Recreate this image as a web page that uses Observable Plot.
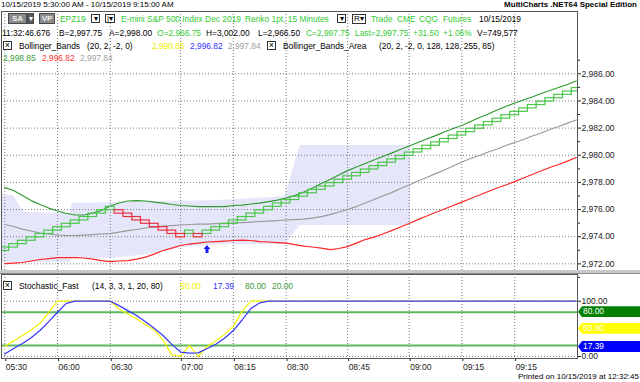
<!DOCTYPE html>
<html><head><meta charset="utf-8">
<script src="https://cdn.jsdelivr.net/npm/d3@7"></script>
<script src="https://cdn.jsdelivr.net/npm/@observablehq/plot@0.6"></script>
<style>
html,body{margin:0;padding:0;background:#fff;}
#wrap{position:relative;width:640px;height:382px;overflow:hidden;background:#fff;font-family:"Liberation Sans",Arial,sans-serif;font-size:8.4px;color:#000;}
#wrap .t{position:absolute;white-space:pre;line-height:10px;}
#wrap .b{position:absolute;box-sizing:border-box;text-align:center;font-size:8px;overflow:hidden;}
</style></head><body><div id="wrap"></div>
<script>
// ---------------- DATA ----------------
const timeTickBars = [0, 6, 12, 20, 26, 32, 39, 46, 52, 58];
const timeTickLabels = ["05:30","06:00","06:30","07:00","08:15","08:30","08:45","09:00","09:15","09:15"];
const priceTicks = [2972, 2974, 2976, 2978, 2980, 2982, 2984, 2986];
const minorPriceTicks = [2971, 2973, 2975, 2977, 2979, 2981, 2983, 2985, 2987];
const brickSize = 0.25;
const renkoDirs = "UUUUUUUUUUUUU" + "DDDDDDDD" + "UDU" + "UUUUUUUUUUUUUUUUUUUUUUUUUUUUUUUUUUUUUUUUUU";
const renkoClose = [
  2973.20, 2973.45, 2973.70, 2973.95, 2974.20, 2974.45, 2974.70, 2974.95, 2975.20, 2975.45, 2975.70, 2975.95, 2976.20,
  2975.70, 2975.45, 2975.20, 2974.95, 2974.70, 2974.45, 2974.20, 2973.95,
  2974.45, 2973.95, 2974.45,
  2974.70, 2974.95, 2975.20, 2975.45, 2975.70, 2975.95, 2976.20, 2976.45, 2976.70, 2976.95,
  2977.20, 2977.45, 2977.70, 2977.95, 2978.20, 2978.45, 2978.70, 2978.95, 2979.20, 2979.45,
  2979.70, 2979.95, 2980.20, 2980.45, 2980.70, 2980.95, 2981.20, 2981.45, 2981.70, 2981.95,
  2982.20, 2982.45, 2982.70, 2982.95, 2983.20, 2983.45, 2983.70, 2983.95, 2984.20, 2984.45,
  2984.70, 2984.95
];
const bbUpper = [
  2977.62, 2977.40, 2977.03, 2976.66, 2976.37, 2976.11, 2975.89, 2975.71, 2975.60, 2975.60,
  2975.74, 2975.93, 2976.26, 2976.48, 2976.63, 2976.66, 2976.63, 2976.55, 2976.48, 2976.37,
  2976.30, 2976.26, 2976.22, 2976.22, 2976.22, 2976.22, 2976.30, 2976.33, 2976.41, 2976.48,
  2976.59, 2976.70, 2976.85, 2977.03, 2977.29, 2977.59, 2977.92, 2978.21, 2978.54, 2978.87,
  2979.13, 2979.39, 2979.65, 2979.91, 2980.16, 2980.42, 2980.68, 2980.94, 2981.20, 2981.45,
  2981.71, 2981.97, 2982.19, 2982.49, 2982.78, 2983.04, 2983.33, 2983.59, 2983.85, 2984.07,
  2984.29, 2984.55, 2984.77, 2984.99, 2985.21, 2985.47
];
const bbMiddle = [
  2974.90, 2974.75, 2974.56, 2974.42, 2974.27, 2974.20, 2974.12, 2974.09, 2974.09, 2974.12,
  2974.16, 2974.20, 2974.23, 2974.34, 2974.45, 2974.53, 2974.64, 2974.71, 2974.78, 2974.82,
  2974.86, 2974.90, 2974.93, 2974.93, 2974.97, 2974.97, 2975.01, 2975.04, 2975.08, 2975.12,
  2975.15, 2975.19, 2975.23, 2975.26, 2975.30, 2975.37, 2975.48, 2975.63, 2975.82, 2976.00,
  2976.22, 2976.48, 2976.74, 2977.00, 2977.25, 2977.55, 2977.81, 2978.10, 2978.36, 2978.65,
  2978.91, 2979.21, 2979.50, 2979.76, 2979.98, 2980.24, 2980.46, 2980.72, 2980.94, 2981.16,
  2981.42, 2981.64, 2981.90, 2982.12, 2982.37, 2982.60
];
const bbLower = [
  2972.02, 2972.06, 2972.10, 2972.21, 2972.32, 2972.39, 2972.46, 2972.46, 2972.46, 2972.43,
  2972.35, 2972.24, 2972.17, 2972.21, 2972.24, 2972.35, 2972.50, 2972.72, 2972.98, 2973.16,
  2973.35, 2973.46, 2973.53, 2973.61, 2973.64, 2973.68, 2973.72, 2973.75, 2973.72, 2973.64,
  2973.61, 2973.57, 2973.53, 2973.42, 2973.31, 2973.24, 2973.16, 2973.05, 2973.13, 2973.27,
  2973.53, 2973.79, 2973.97, 2974.20, 2974.45, 2974.71, 2974.97, 2975.26, 2975.52, 2975.78,
  2976.04, 2976.30, 2976.55, 2976.81, 2977.07, 2977.33, 2977.59, 2977.81, 2978.06, 2978.32,
  2978.58, 2978.84, 2979.10, 2979.32, 2979.57, 2979.83
];
const areaBars   = [-0.375, 1.0, 1.8, 2.35, 7.45, 7.7, 12.0, 16.6, 20.0, 24.5, 31.9, 33.6, 46.15];
const areaTop    = [2977.03, 2977.03, 2976.15, 2975.78, 2975.71, 2976.45, 2976.52, 2976.59, 2976.62, 2976.66, 2976.96, 2980.72, 2980.72];
const areaBottom = [2972.10, 2972.10, 2972.10, 2972.10, 2972.10, 2972.39, 2972.39, 2972.68, 2973.20, 2973.42, 2973.42, 2974.82, 2974.82];
const signalBars = [23];
const signalPrice = [2973.09];
const stochK = [
  18, 28, 38, 48, 60, 80, 100, 100, 100, 100,
  100, 100, 100, 86, 77, 68, 58, 48, 30, 3,
  0, 20, 0, 18, 28, 40, 55, 82, 100, 100,
  100, 100, 100, 100, 100, 100, 100, 100, 100, 100,
  100, 100, 100, 100, 100, 100, 100, 100, 100, 100,
  100, 100, 100, 100, 100, 100, 100, 100, 100, 100,
  100, 100, 100, 100, 100, 100
];
const stochD = [
  4.5, 14.5, 23.5, 34, 47, 63, 80, 96, 100, 100,
  100, 100, 100, 92, 83, 74, 63, 51, 38, 22,
  8, 6, 6.5, 14, 22, 33, 47, 66, 87, 97,
  100, 100, 100, 100, 100, 100, 100, 100, 100, 100,
  100, 100, 100, 100, 100, 100, 100, 100, 100, 100,
  100, 100, 100, 100, 100, 100, 100, 100, 100, 100,
  100, 100, 100, 100, 100, 100
];
const stochLevels = [80, 20];
const stochGrid = [0, 100];
const stochTagValues = [80, 50, 17.39];
const stochTagLabels = ["80.00", "50.00", "17.39"];
const stochTagColors = ["#007f00", "#ffff00", "#0000ff"];

// ---------------- BUILD ----------------
const wrap = document.getElementById("wrap");
const W = 640;
const xDomain = [-0.375, 65.15];
const FONT = "'Liberation Sans', Arial, sans-serif";
const bars = d3.range(renkoClose.length);
const bricks = bars.map(i => {
  const up = renkoDirs[i] === "U";
  const c = renkoClose[i];
  return {i, up, close: c, open: up ? c - brickSize : c + brickSize};
});
const bands = bars.map(i => ({i, up: bbUpper[i], mid: bbMiddle[i], lo: bbLower[i]}));
const area = areaBars.map((b, k) => ({i: b, top: areaTop[k], bot: areaBottom[k]}));
const stoch = bars.map(i => ({i, k: stochK[i], d: stochD[i]}));
const signals = signalBars.map((b, k) => ({i: b, p: signalPrice[k]}));

const arrowUp = {draw(ctx, size) {
  const r = Math.sqrt(size / Math.PI);
  ctx.moveTo(0, -r); ctx.lineTo(r * 0.85, 0); ctx.lineTo(r * 0.38, 0); ctx.lineTo(r * 0.38, r);
  ctx.lineTo(-r * 0.38, r); ctx.lineTo(-r * 0.38, 0); ctx.lineTo(-r * 0.85, 0); ctx.closePath();
}};
const gridStyle = {stroke: "#7a7a7a", strokeOpacity: 1, strokeDasharray: "1,2", strokeWidth: 1};
const plotStyle = {fontFamily: FONT, fontSize: "8.5px", color: "#222", background: "transparent", overflow: "visible"};

const main = Plot.plot({
  width: W, height: 261, marginTop: 1, marginBottom: 1, marginLeft: 1, marginRight: 63,
  style: plotStyle,
  x: {domain: xDomain, axis: null},
  y: {domain: [2971.51, 2990.59], axis: null},
  marks: [
    Plot.areaY(area, {x: "i", y1: "bot", y2: "top", fill: "#e6e6fa", clip: true}),
    Plot.gridY(priceTicks, gridStyle),
    Plot.gridX(timeTickBars, gridStyle),
    Plot.line(bands, {x: "i", y: "mid", stroke: "#9a9a9a", strokeWidth: 1.2}),
    Plot.line(bands, {x: "i", y: "up", stroke: "#2f9a2f", strokeWidth: 1.2}),
    Plot.line(bands, {x: "i", y: "lo", stroke: "#ff2626", strokeWidth: 1.2}),
    Plot.rect(bricks.filter(d => d.up), {x1: d => d.i - 0.5, x2: d => d.i + 0.5, y1: "open", y2: "close", fill: "none", stroke: "#4cc64c", strokeWidth: 1.2, clip: true}),
    Plot.rect(bricks.filter(d => !d.up), {x1: d => d.i - 0.5, x2: d => d.i + 0.5, y1: "open", y2: "close", fill: "none", stroke: "#e8323e", strokeWidth: 1.2, clip: true}),
    Plot.dot(signals, {x: "i", y: "p", symbol: arrowUp, r: 4, fill: "#1a1aff", stroke: "none"}),
    Plot.axisY(priceTicks, {anchor: "right", tickSize: 3, tickPadding: 1, label: null, tickFormat: d3.format(",.2f")}),
    Plot.axisY(minorPriceTicks, {anchor: "right", tickSize: 2, label: null, tickFormat: () => ""}),
    Plot.frame({stroke: "#555"})
  ]
});
main.style.position = "absolute"; main.style.left = "0px"; main.style.top = "10px";
wrap.appendChild(main);

// separator between panes
const sep = document.createElement("div");
Object.assign(sep.style, {position: "absolute", left: "0px", top: "270px", width: "640px", height: "3px", background: "#c8c8c8", borderBottom: "1px solid #8a8a8a"});
wrap.appendChild(sep);

const st = Plot.plot({
  width: W, height: 100, marginTop: 2, marginBottom: 14, marginLeft: 1, marginRight: 63,
  style: plotStyle,
  x: {domain: xDomain, axis: null},
  y: {domain: [-3.62, 148.3], axis: null},
  marks: [
    Plot.gridY(stochGrid, gridStyle),
    Plot.gridX(timeTickBars, gridStyle),
    Plot.ruleY(stochLevels, {stroke: "#5cb85c", strokeWidth: 2}),
    Plot.line(stoch, {x: "i", y: "k", stroke: "#f2f200", strokeWidth: 1.2}),
    Plot.line(stoch, {x: "i", y: "d", stroke: "#3636ff", strokeWidth: 1.2}),
    Plot.axisY(stochGrid, {anchor: "right", tickSize: 3, tickPadding: 1, label: null, tickFormat: d3.format(".2f")}),
    Plot.axisX(timeTickBars, {anchor: "bottom", tickSize: 3, tickPadding: 2, textAnchor: "start", dx: 1, label: null,
      tickFormat: d => timeTickLabels[timeTickBars.indexOf(d)]}),
    Plot.frame({stroke: "#555"})
  ]
});
st.style.position = "absolute"; st.style.left = "0px"; st.style.top = "272px";
wrap.appendChild(st);

// ---------------- TEXT OVERLAYS ----------------
function txt(s, x, cy, color, extra) {
  const e = document.createElement("span");
  e.className = "t"; e.textContent = s;
  e.style.left = x + "px"; e.style.top = (cy - 5) + "px"; e.style.color = color || "#000";
  if (extra) Object.assign(e.style, extra);
  wrap.appendChild(e); return e;
}
function box(x, y, w, h, s, st2) {
  const e = document.createElement("div");
  e.className = "b"; e.textContent = s;
  Object.assign(e.style, {left: x + "px", top: y + "px", width: w + "px", height: h + "px", lineHeight: (h - 2) + "px"}, st2 || {});
  wrap.appendChild(e); return e;
}
const G = "#33cc33", DG = "#3a9a3a", Y = "#f0f000", B = "#3030ff", GR = "#a0a0a0", R = "#ff3333";

// title row
txt("10/15/2019 5:30:00 AM - 10/15/2019 9:15:00 AM", 1, 5, "#000", {fontSize: "8px"});
txt("MultiCharts .NET64 Special Edition", 0, 5, "#000", {fontSize: "8px", fontWeight: "bold", left: "auto", right: "3px"});

// row 2
box(8, 13, 19, 11, "SA", {background: "#8a8a8a", border: "1px solid #4a4a4a", color: "#eee", fontWeight: "bold"});
box(27, 13, 7, 11, "▾", {background: "#5a5a5a", border: "1px solid #4a4a4a", color: "#fff"});
box(39, 13, 16, 11, "VP", {background: "#8a8a8a", border: "1px solid #4a4a4a", color: "#eee", fontWeight: "bold"});
txt("EPZ19", 60, 18.5, G);
box(91, 14, 9, 9, "▾", {border: "1px solid #333", background: "#fff"});
box(105, 14, 10, 9, "|▾", {border: "1px solid #333", background: "#fff"});
txt("E-mini S&P 500 Index Dec 2019", 121, 18.5, G);
txt("Renko 1pt, 15 Minutes", 245, 18.5, G);
box(337, 14, 9, 9, "▾", {border: "1px solid #333", background: "#fff"});
box(352, 14, 14, 10, "R▾", {border: "1px solid #333", background: "#fff"});
txt("Trade", 371, 18.5, G); txt("CME", 397, 18.5, G); txt("CQG", 419, 18.5, G); txt("Futures", 443, 18.5, G);
txt("10/15/2019", 479, 18.5, "#000");

// row 3
txt("11:32:46.676", 2, 32.5); txt("B=2,997.75", 59, 32.5); txt("A=2,998.00", 109, 32.5);
txt("O=2,966.75", 157, 32.5, G); txt("H=3,002.00", 206, 32.5); txt("L=2,966.50", 258, 32.5);
txt("C=2,997.75", 306, 32.5, G); txt("Last=2,997.75", 355, 32.5, G); txt("+31.50", 413, 32.5, G);
txt("+1.06%", 443, 32.5, G); txt("V=749,577", 477, 32.5);

// row 4/5
box(3, 41, 9, 9, "×", {border: "1px solid #333", background: "#fff", fontSize: "9px"});
txt("Bollinger_Bands", 19, 45.5); txt("(20, 2, -2, 0)", 87, 45.5);
txt("2,998.85", 152, 45.5, Y); txt("2,996.82", 190, 45.5, B); txt("2,997.84", 228, 45.5, GR);
box(267, 41, 9, 9, "×", {border: "1px solid #333", background: "#fff", fontSize: "9px"});
txt("Bollinger_Bands_Area", 283, 45.5); txt("(20, 2, -2, 0, 128, 128, 255, 85)", 379, 45.5);
txt("2,998.85", 3, 58, DG); txt("2,996.82", 42, 58, R); txt("2,997.84", 80, 58, GR);

// stochastic header
box(3, 281, 9, 9, "×", {border: "1px solid #333", background: "#fff", fontSize: "9px"});
txt("Stochastic_Fast", 19, 285.5); txt("(14, 3, 3, 1, 20, 80)", 92, 285.5);
txt("50.00", 180, 285.5, Y); txt("17.39", 213, 285.5, B); txt("80.00", 245, 285.5, DG); txt("20.00", 272, 285.5, DG);

// right value tags on the stochastic axis
const sy = st.scale("y");
stochTagValues.forEach((v, k) => {
  const cy = 272 + sy.apply(v);
  const e = document.createElement("div");
  e.textContent = stochTagLabels[k];
  Object.assign(e.style, {position: "absolute", left: "578px", top: (cy - 5.5) + "px", width: "62px", height: "11px",
    background: stochTagColors[k], color: "#fff", lineHeight: "11px", paddingLeft: "5px", boxSizing: "border-box",
    clipPath: "polygon(0 50%, 4px 0, 100% 0, 100% 100%, 4px 100%)"});
  wrap.appendChild(e);
});

txt("Printed on 10/15/2019 at 12:32:45", 0, 377, "#000", {fontSize: "8px", left: "auto", right: "1px"});
</script></body></html>
